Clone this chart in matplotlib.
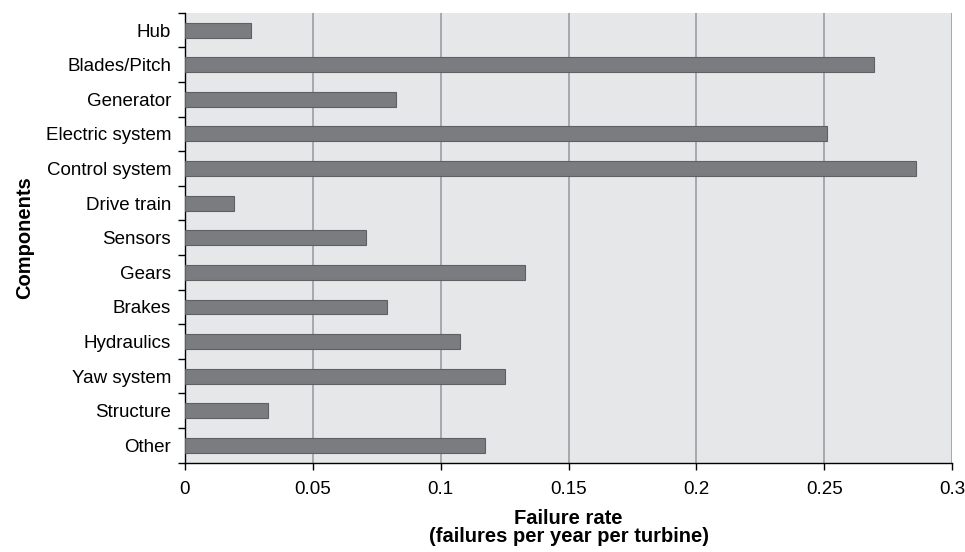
import matplotlib
matplotlib.use("Agg")
import matplotlib.pyplot as plt
import numpy as np

# failure rates, top to bottom
components = ["Hub", "Blades/Pitch", "Generator", "Electric system", "Control system",
              "Drive train", "Sensors", "Gears", "Brakes", "Hydraulics",
              "Yaw system", "Structure", "Other"]
failure_rate = [0.026, 0.2696, 0.0826, 0.251, 0.2859,
                0.0193, 0.0708, 0.133, 0.0788, 0.1075,
                0.1252, 0.0325, 0.1172]
xticks = [0, 0.05, 0.1, 0.15, 0.2, 0.25, 0.3]
xtick_labels = ["0", "0.05", "0.1", "0.15", "0.2", "0.25", "0.3"]

plt.rcParams["font.family"] = ["Liberation Sans", "DejaVu Sans"]

fig = plt.figure(figsize=(9.65, 5.52), dpi=100)
ax = fig.add_axes([0.1917, 0.1618, 0.795, 0.815])
ax.set_facecolor("#e6e7e9")

pos = np.arange(len(components))[::-1]
ax.barh(pos, failure_rate, height=0.43, color="#7b7c80", edgecolor="#5f6064",
        linewidth=0.8, zorder=3)

ax.set_xlim(0, 0.3)
ax.set_ylim(-0.5, len(components) - 0.5)
ax.set_xticks(xticks)
ax.set_xticklabels(xtick_labels, fontsize=13.5)
ax.xaxis.grid(True, color="#a2a3a6", linewidth=1.3, zorder=1)
ax.set_axisbelow(True)

# labels at bar centres, tick marks between categories
ax.set_yticks(pos)
ax.set_yticklabels(components, fontsize=13.5)
ax.tick_params(axis="y", which="major", length=0, pad=10)
ax.set_yticks(np.arange(-0.5, len(components)), minor=True)
ax.tick_params(axis="y", which="minor", length=5, width=1, direction="out")
ax.tick_params(axis="x", length=5, width=1, direction="out", pad=8)

for side in ["top", "right"]:
    ax.spines[side].set_visible(False)
for side in ["left", "bottom"]:
    ax.spines[side].set_color("black")
    ax.spines[side].set_linewidth(1)

ax.set_xlabel("Failure rate\n(failures per year per turbine)", fontsize=14.5,
              fontweight="bold", labelpad=8, linespacing=0.95)
ax.set_ylabel("Components", fontsize=14.5, fontweight="bold", labelpad=8)

fig.savefig("out.png", dpi=100)
